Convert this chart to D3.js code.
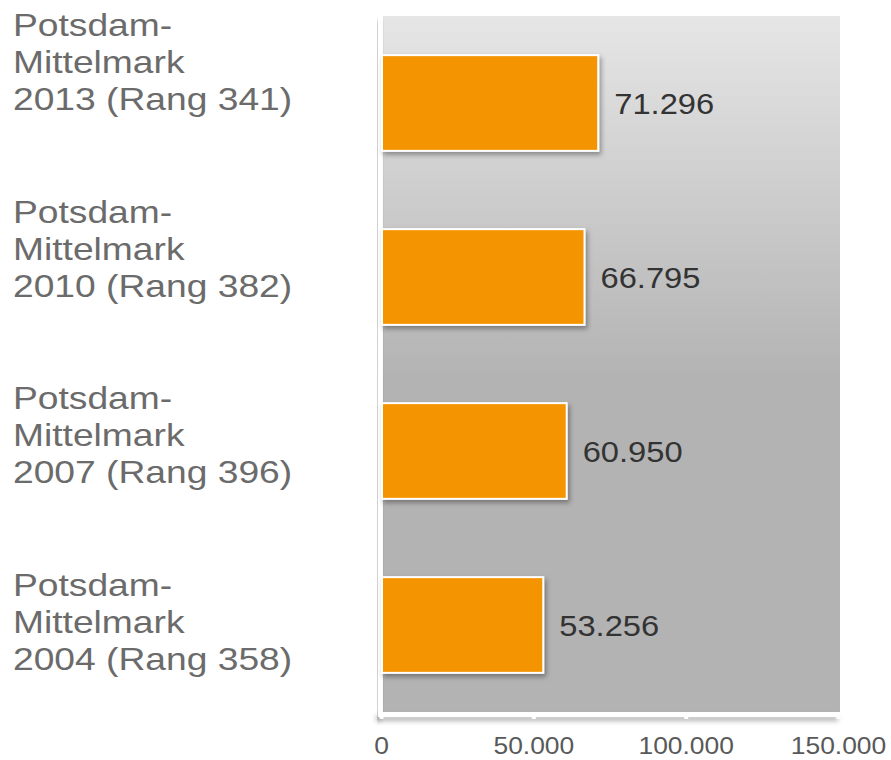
<!DOCTYPE html>
<html>
<head>
<meta charset="utf-8">
<script src="https://cdn.jsdelivr.net/npm/d3@7"></script>
<style>
  html, body { margin: 0; padding: 0; background: #ffffff; }
  svg { display: block; }
</style>
</head>
<body>
<svg id="chart" width="891" height="760"></svg>
<script>
// ---- data ----
const categories = [
  ["Potsdam-", "Mittelmark", "2013 (Rang 341)"],
  ["Potsdam-", "Mittelmark", "2010 (Rang 382)"],
  ["Potsdam-", "Mittelmark", "2007 (Rang 396)"],
  ["Potsdam-", "Mittelmark", "2004 (Rang 358)"]
];
const categoryKeys = ["2013", "2010", "2007", "2004"];
const values = [71296, 66795, 60950, 53256];
const tickValues = [0, 50000, 100000, 150000];

// ---- layout ----
const plot = { left: 383, right: 840, top: 16, bottom: 712 };
const font = "'Liberation Sans', Arial, sans-serif";

const de = d3.formatLocale({ decimal: ",", thousands: ".", grouping: [3], currency: ["", " €"] });
const fmt = de.format(",.0f");

const svg = d3.select("#chart");
const defs = svg.append("defs");

const grad = defs.append("linearGradient")
  .attr("id", "bg").attr("x1", 0).attr("y1", 0).attr("x2", 0).attr("y2", 1);
grad.append("stop").attr("offset", "0%").attr("stop-color", "#e6e6e6");
grad.append("stop").attr("offset", "52%").attr("stop-color", "#b3b3b3");
grad.append("stop").attr("offset", "100%").attr("stop-color", "#b3b3b3");

const shadow = defs.append("filter").attr("id", "shadow")
  .attr("x", "-10%").attr("y", "-10%").attr("width", "130%").attr("height", "140%");
shadow.append("feDropShadow").attr("dx", 2).attr("dy", 3).attr("stdDeviation", 2.5)
  .attr("flood-color", "#000").attr("flood-opacity", 0.35);

const axShadow = defs.append("filter").attr("id", "axshadow")
  .attr("x", "-20%").attr("y", "-200%").attr("width", "140%").attr("height", "600%");
axShadow.append("feDropShadow").attr("dx", -2).attr("dy", 4).attr("stdDeviation", 2.5)
  .attr("flood-color", "#000").attr("flood-opacity", 0.3);

// scales
const x = d3.scaleLinear().domain([0, 150000]).range([381, 838]);
const y = d3.scaleBand().domain(categoryKeys).range([plot.top, plot.bottom])
  .paddingInner(0.45).paddingOuter(0.225);
const yLabel = d3.scalePoint().domain(categoryKeys).range([73, 633]);

// plot background
svg.append("rect")
  .attr("x", plot.left).attr("y", plot.top)
  .attr("width", plot.right - plot.left).attr("height", plot.bottom - plot.top)
  .attr("fill", "url(#bg)");

// left axis line (white with shadow)
svg.append("rect")
  .attr("x", 378).attr("y", plot.top)
  .attr("width", 4.5).attr("height", plot.bottom - plot.top + 5)
  .attr("fill", "#ffffff")
  .attr("filter", "url(#axshadow)");

// bottom axis (white with shadow)
const xAxis = d3.axisBottom(x).tickValues(tickValues).tickSize(0).tickFormat(d => fmt(d));
const gx = svg.append("g").attr("transform", `translate(0, ${plot.bottom})`);
gx.append("rect")
  .attr("x", 378).attr("y", 0).attr("width", plot.right - 378).attr("height", 5)
  .attr("fill", "#ffffff").attr("filter", "url(#axshadow)");
gx.call(xAxis);
gx.select(".domain").remove();
gx.selectAll(".tick").append("rect")
  .attr("x", -2).attr("y", 3).attr("width", 4).attr("height", 4)
  .attr("fill", "#ffffff");
gx.selectAll(".tick text")
  .attr("y", 42).attr("dy", 0)
  .attr("transform", "scale(1.1,1)")
  .attr("font-family", font).attr("font-size", 24)
  .attr("fill", "#595959");

// bars
svg.append("g").selectAll("rect")
  .data(values)
  .join("rect")
  .attr("x", x(0) + 1)
  .attr("y", (d, i) => y(categoryKeys[i]))
  .attr("width", d => x(d) - x(0) - 1)
  .attr("height", y.bandwidth())
  .attr("fill", "#f49400")
  .attr("stroke", "#ffffff")
  .attr("stroke-width", 2)
  .attr("filter", "url(#shadow)");

// value labels
svg.append("g").selectAll("text")
  .data(values)
  .join("text")
  .attr("transform", (d, i) =>
    `translate(${x(d) + 16}, ${y(categoryKeys[i]) + y.bandwidth() / 2 + 11}) scale(1.09,1)`)
  .attr("font-family", font).attr("font-size", 30)
  .attr("fill", "#333333")
  .text(d => fmt(d));

// category labels
const lab = svg.append("g").selectAll("text")
  .data(categories)
  .join("text")
  .attr("font-family", font).attr("font-size", 31)
  .attr("fill", "#6b6b6b")
  .attr("transform", (d, i) => `translate(13, ${yLabel(categoryKeys[i])}) scale(1.2,1)`);
lab.selectAll("tspan")
  .data(d => d.map((t, j) => ({ t, j })))
  .join("tspan")
  .attr("x", 0)
  .attr("dy", d => d.j === 0 ? -37 : 37)
  .text(d => d.t);
</script>
</body>
</html>
